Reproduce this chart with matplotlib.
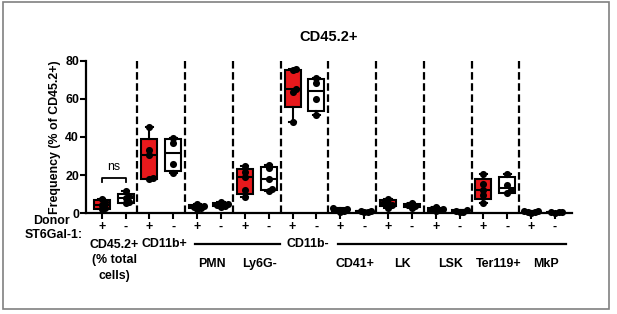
import matplotlib
matplotlib.use("Agg")
import matplotlib.pyplot as plt
import matplotlib.transforms as mtransforms
from matplotlib.patches import Rectangle
import numpy as np

plt.rcParams['font.family'] = ['Liberation Sans', 'DejaVu Sans']
plt.rcParams['font.weight'] = 'bold'

# populations (pairs of boxes: donor ST6Gal-1 + / -)
groups = ["CD45.2+\n(% total\ncells)", "CD11b+", "PMN", "Ly6G-", "CD11b-",
          "CD41+", "LK", "LSK", "Ter119+", "MkP"]
label_row = [0, 0, 1, 1, 0, 1, 1, 1, 1, 1]

donor_pos = [
    [2, 3, 4.5, 6, 7.5],
    [17.8, 18.5, 30.5, 33, 45],
    [2.5, 3, 3.5, 4, 5],
    [8.7, 12, 19, 21.8, 25],
    [48, 63.5, 65, 75, 75.5],
    [0.8, 1.2, 1.5, 2, 2.6],
    [3, 4.2, 5, 6, 7.5],
    [1, 1.5, 2, 2.5, 3.5],
    [5.2, 9.5, 12, 15.3, 20.4],
    [0.4, 0.6, 0.9, 1.1, 1.4],
]
donor_neg = [
    [5.3, 6, 7.8, 9, 11.7],
    [21, 26, 37, 39.5],
    [3.5, 4, 4.5, 5, 6],
    [11.5, 12.5, 17.8, 23.5, 25.5],
    [51.5, 59.8, 68.5, 70.8],
    [0.6, 0.9, 1.1, 1.4],
    [3, 3.8, 4.3, 5.2],
    [0.5, 0.8, 1.1, 1.6],
    [10.5, 12, 15, 20.6],
    [0.3, 0.5, 0.7, 0.9],
]
tick_labels = ["+", "-"] * len(groups)

RED = "#e8191c"
FS = 8.9

fig = plt.figure(figsize=(6.17, 3.14), dpi=100)
ax = fig.add_axes([0.1394, 0.3207, 0.7872, 0.486])
ax.set_xlim(-0.658, 19.70)
ax.set_ylim(0, 80)

# pixel scale, used for the dot swarm
bb = ax.get_position()
px_x = bb.width * fig.get_figwidth() * fig.dpi / (19.70 + 0.658)
px_y = bb.height * fig.get_figheight() * fig.dpi / 80


def swarm(vals, d=3.6):
    placed = []
    offs = []
    for v in vals:
        y = v * px_y
        for k in range(5):
            step = (k + 1) // 2 * (1 if k % 2 else -1) * d
            if all((step - px) ** 2 + (y - py) ** 2 >= d * d for px, py in placed):
                break
        placed.append((step, y))
        offs.append(step / px_x)
    return np.array(offs)


def box_stats(vals):
    q1, med, q3 = np.percentile(vals, [25, 50, 75], method="weibull")
    return dict(med=med, q1=q1, q3=q3, whislo=min(vals), whishi=max(vals), fliers=[])


for i in range(len(groups)):
    for j, (vals, fc) in enumerate([(donor_pos[i], RED), (donor_neg[i], "white")]):
        x = 2 * i + j
        ax.bxp([box_stats(vals)], positions=[x], widths=0.67, capwidths=0.3,
               patch_artist=True, showfliers=False,
               boxprops=dict(facecolor=fc, edgecolor="black", linewidth=1.5),
               medianprops=dict(color="black", linewidth=1.5),
               whiskerprops=dict(color="black", linewidth=1.5),
               capprops=dict(color="black", linewidth=1.5), zorder=2)
        ax.scatter(x + swarm(vals), vals, s=26, color="black", zorder=3,
                   clip_on=False, linewidths=0)

# dashed separators
for xb in np.arange(1.5, 2 * len(groups) - 1, 2):
    ax.axvline(xb, color="black", lw=1.6, linestyle=(0, (3.4, 1.6)), zorder=1)

# ns bracket
ax.plot([0, 0, 1, 1], [16.6, 18.3, 18.3, 16.6], color="black", lw=1.3)
ax.text(0.5, 24.4, "ns", ha="center", va="center", fontsize=FS, fontweight="normal")

for s in ["top", "right"]:
    ax.spines[s].set_visible(False)
for s in ["left", "bottom"]:
    ax.spines[s].set_linewidth(1.6)

ax.set_yticks([0, 20, 40, 60, 80])
ax.set_xticks(np.arange(2 * len(groups)), tick_labels)
ax.tick_params(axis="y", length=4, width=1.5, pad=1, labelsize=FS)
ax.tick_params(axis="x", length=4, width=1.5, pad=1.5, labelsize=FS)
ax.set_ylabel("Frequency (% of CD45.2+)", fontsize=FS, fontweight="bold", labelpad=3)
ax.text(0.5, 1.157, "CD45.2+", transform=ax.transAxes, ha="center", va="center",
        fontsize=10.5, fontweight="bold")

blend = mtransforms.blended_transform_factory(ax.transData, ax.transAxes)
row_y = [-0.201, -0.332]
for i, name in enumerate(groups):
    cx = 2 * i + 0.5 + 0.12
    if "\n" in name:
        ax.text(cx - 0.1, row_y[0] + 0.035, name, transform=blend, ha="center", va="top",
                fontsize=FS, linespacing=1.4, clip_on=False)
    else:
        ax.text(cx, row_y[label_row[i]], name, transform=blend, ha="center",
                va="center", fontsize=FS, clip_on=False)

# underlines for CD11b+ / CD11b- subsets
for first, last in [(2, 3), (5, 9)]:
    ax.plot([2 * first - 0.1, 2 * last + 1.47], [row_y[0]] * 2, transform=blend,
            color="black", lw=1.6, clip_on=False)

fig.text(52 / 617, 1 - 221 / 314, "Donor", ha="center", va="center", fontsize=FS)
fig.text(54 / 617, 1 - 235 / 314, "ST6Gal-1:", ha="center", va="center", fontsize=FS)

fig.patches.append(Rectangle((0.0044, 0.015), 0.982, 0.98, transform=fig.transFigure,
                             fill=False, edgecolor="#808080", lw=1.2))

fig.savefig("out.png", dpi=100)
